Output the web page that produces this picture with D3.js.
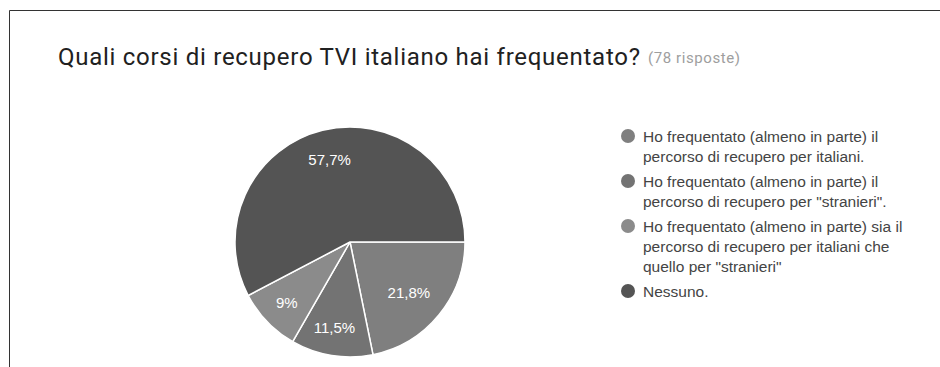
<!DOCTYPE html>
<html lang="it">
<head>
<meta charset="utf-8">
<title>Quali corsi di recupero TVI italiano hai frequentato?</title>
<script src="https://cdn.jsdelivr.net/npm/d3@7"></script>
<style>
  body { margin: 0; background: #fff; }
  .title { font-family: Roboto, "Noto Sans", sans-serif; font-size: 24px; fill: #212121; }
  .sub { font-family: Roboto, "Noto Sans", sans-serif; font-size: 15px; fill: #9e9e9e; }
  .legend text { font-family: "Liberation Sans", Arial, sans-serif; font-size: 15.5px; fill: #444; }
  .lbl { font-family: "Liberation Sans", Arial, sans-serif; font-size: 15px; fill: #fff; }
</style>
</head>
<body>
<script>
// data
var categories = [
  ["Ho frequentato (almeno in parte) il", "percorso di recupero per italiani."],
  ["Ho frequentato (almeno in parte) il", "percorso di recupero per \"stranieri\"."],
  ["Ho frequentato (almeno in parte) sia il", "percorso di recupero per italiani che", "quello per \"stranieri\""],
  ["Nessuno."]
];
var values = [21.8, 11.5, 9, 57.7];
var labels = ["21,8%", "11,5%", "9%", "57,7%"];
var colors = ["#7f7f7f", "#737373", "#8b8b8b", "#545454"];

var w = 940, h = 367;
var cx = 350, cy = 242, r = 115;

var svg = d3.select("body").append("svg")
  .attr("width", w)
  .attr("height", h);

// card border (top and left edges)
svg.append("path")
  .attr("d", "M9.5," + h + "V10.5H" + w)
  .attr("fill", "none")
  .attr("stroke", "#333")
  .attr("stroke-width", 1);

svg.append("text")
  .attr("class", "title")
  .attr("x", 58)
  .attr("y", 65)
  .attr("textLength", 582)
  .attr("lengthAdjust", "spacing")
  .text("Quali corsi di recupero TVI italiano hai frequentato?");

svg.append("text")
  .attr("class", "sub")
  .attr("x", 648)
  .attr("y", 63)
  .attr("textLength", 92)
  .attr("lengthAdjust", "spacing")
  .text("(78 risposte)");

// pie, first slice starts at 3 o'clock and goes clockwise
var pie = d3.pie()
  .sort(null)
  .startAngle(Math.PI / 2)
  .endAngle(Math.PI / 2 + 2 * Math.PI);

var arc = d3.arc().innerRadius(0).outerRadius(r);
var labelArc = d3.arc().innerRadius(85).outerRadius(85);

var g = svg.append("g").attr("transform", "translate(" + cx + "," + cy + ")");

var arcs = pie(values);

g.selectAll("path")
  .data(arcs)
  .enter()
  .append("path")
  .attr("d", arc)
  .attr("fill", function(d, i) { return colors[i]; })
  .attr("stroke", "#fff")
  .attr("stroke-width", 1.5)
  .attr("stroke-linejoin", "round");

g.selectAll("text")
  .data(arcs)
  .enter()
  .append("text")
  .attr("class", "lbl")
  .attr("transform", function(d) {
    var c = labelArc.centroid(d);
    // the small slices sit a little lower, the 21,8% one a little inward
    if (d.index === 0) { c[0] -= 7; c[1] -= 3; }
    if (d.index === 1 || d.index === 2) { c[0] -= 2; c[1] += 2; }
    return "translate(" + c + ")";
  })
  .attr("text-anchor", "middle")
  .attr("dy", "0.35em")
  .text(function(d, i) { return labels[i]; });

// legend
var legend = svg.append("g").attr("class", "legend");
var ly = 142;
categories.forEach(function(lines, i) {
  legend.append("circle")
    .attr("cx", 628)
    .attr("cy", ly - 6)
    .attr("r", 7)
    .attr("fill", colors[i]);
  lines.forEach(function(t, j) {
    legend.append("text")
      .attr("x", 643)
      .attr("y", ly + j * 20)
      .text(t);
  });
  ly += (lines.length - 1) * 20 + 25;
});
</script>
</body>
</html>
